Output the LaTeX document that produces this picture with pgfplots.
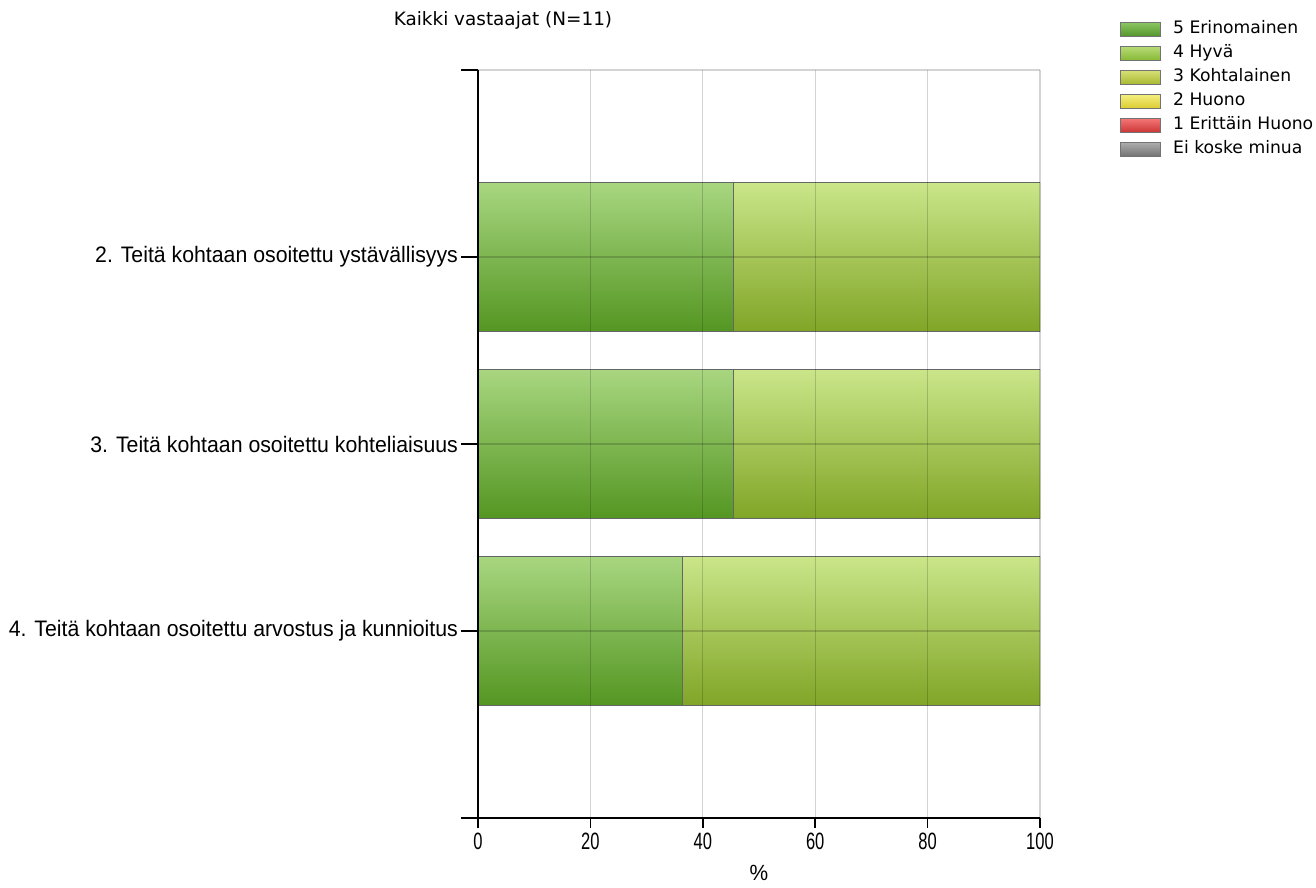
\documentclass[border=0pt]{standalone}
\usepackage{fontspec}
\setmainfont{Liberation Sans}
\newfontfamily\verd{DejaVu Sans}
\newfontfamily\lab[FakeStretch=0.95]{Liberation Sans}
\newfontfamily\tickf[FakeStretch=0.7]{Liberation Sans}
\usepackage{pgfplots}
\pgfplotsset{compat=1.18}
\definecolor{erTop}{RGB}{168,214,128}
\definecolor{erBot}{RGB}{84,150,34}
\definecolor{hyTop}{RGB}{202,230,138}
\definecolor{hyBot}{RGB}{128,165,38}
\definecolor{lErTop}{RGB}{140,200,100}
\definecolor{lErBot}{RGB}{85,150,45}
\definecolor{lHyTop}{RGB}{185,220,120}
\definecolor{lHyBot}{RGB}{135,185,55}
\definecolor{koTop}{RGB}{215,225,120}
\definecolor{koBot}{RGB}{170,185,50}
\definecolor{huTop}{RGB}{245,240,130}
\definecolor{huBot}{RGB}{220,205,50}
\definecolor{ehTop}{RGB}{245,120,120}
\definecolor{ehBot}{RGB}{205,55,55}
\definecolor{eiTop}{RGB}{175,175,175}
\definecolor{eiBot}{RGB}{115,115,115}
\pgfplotsset{
  base/.style={at={(0,0)}, anchor=south west,
    scale only axis, width=281pt, height=374pt,
    xmin=0, xmax=100, ymin=0, ymax=4},
  bars/.style={base, xbar stacked, bar width=0.8, hide axis},
  er/.style={top color=erTop, bottom color=erBot, draw=black!60, line width=0.5pt},
  hy/.style={top color=hyTop, bottom color=hyBot, draw=black!60, line width=0.5pt},
}
\begin{document}
\begin{tikzpicture}[x=1pt,y=1pt]
\path[use as bounding box] (-239,-35) rectangle (419,409);
\node[font=\verd\fontsize{9.2}{11}\selectfont] at (12.5,399) {Kaikki vastaajat (N=11)};
% 2. Teitä kohtaan osoitettu ystävällisyys
\begin{axis}[bars]
\addplot[er] coordinates {(45.45,3)};
\addplot[hy] coordinates {(54.55,3)};
\end{axis}
% 3. Teitä kohtaan osoitettu kohteliaisuus
\begin{axis}[bars]
\addplot[er] coordinates {(45.45,2)};
\addplot[hy] coordinates {(54.55,2)};
\end{axis}
% 4. Teitä kohtaan osoitettu arvostus ja kunnioitus
\begin{axis}[bars]
\addplot[er] coordinates {(36.36,1)};
\addplot[hy] coordinates {(63.64,1)};
\end{axis}
% frame, grid, ticks, labels, legend
\begin{axis}[
  base,
  axis x line*=bottom, axis y line*=left,
  axis line style={black, line width=0.75pt},
  xtick={0,20,40,60,80,100},
  ytick={0,1,2,3,4},
  yticklabels={,{4. Teitä kohtaan osoitettu arvostus ja kunnioitus},{3. Teitä kohtaan osoitettu kohteliaisuus},{2. Teitä kohtaan osoitettu ystävällisyys},},
  tick align=outside, major tick length=6.5pt,
  xtick style={/pgfplots/major tick length=5pt},
  ytick style={/pgfplots/major tick length=8.5pt},
  tick style={black, line width=0.75pt},
  xmajorgrids, ymajorgrids,
  grid style={black, opacity=0.17, line width=0.6pt},
  /pgf/number format/assume math mode=true,
  xticklabel style={font=\tickf\fontsize{11.8}{13}\selectfont, yshift=2.5pt},
  yticklabel style={font=\lab\fontsize{11.2}{13}\selectfont, xshift=0pt},
  xlabel={\%}, xlabel style={font=\lab\fontsize{11}{13}\selectfont, yshift=-3pt, inner sep=1pt},
  legend style={at={(rel axis cs:1.1316,1.072)}, anchor=north west, draw=none, fill=none,
    font=\verd\fontsize{8.6}{10}\selectfont,
    nodes={inner sep=0pt, text height=6.5pt, text depth=2pt},
    row sep=3.5pt,
    /tikz/every odd column/.style={column sep=6pt}},
  legend cell align=left,
  legend image code/.code={\draw[#1, draw=black!55, line width=0.4pt] (0pt,-3.5pt) rectangle (20pt,3.5pt);},
]
\addlegendimage{top color=lErTop, bottom color=lErBot}
\addlegendentry{5 Erinomainen}
\addlegendimage{top color=lHyTop, bottom color=lHyBot}
\addlegendentry{4 Hyvä}
\addlegendimage{top color=koTop, bottom color=koBot}
\addlegendentry{3 Kohtalainen}
\addlegendimage{top color=huTop, bottom color=huBot}
\addlegendentry{2 Huono}
\addlegendimage{top color=ehTop, bottom color=ehBot}
\addlegendentry{1 Erittäin Huono}
\addlegendimage{top color=eiTop, bottom color=eiBot}
\addlegendentry{Ei koske minua}
\end{axis}
\end{tikzpicture}
\end{document}
